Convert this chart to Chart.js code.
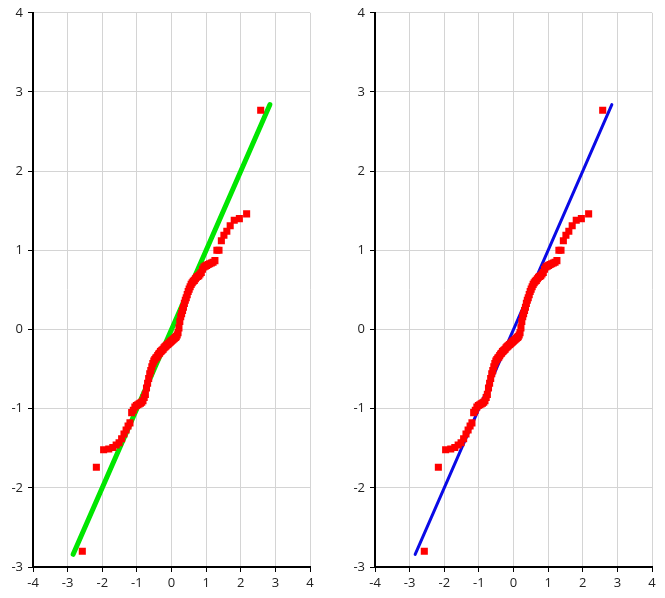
<!DOCTYPE html>
<html>
<head>
<meta charset="utf-8">
<script src="https://cdn.jsdelivr.net/npm/chart.js@4/dist/chart.umd.min.js"></script>
<style>
  body { margin: 0; background: #fff; width: 665px; height: 598px; overflow: hidden; position: relative; }
  canvas { position: absolute; top: 0; }
  #qqLeft { left: 0; }
  #qqRight { left: 340px; }
</style>
</head>
<body>
<canvas id="qqLeft" width="330" height="598"></canvas>
<canvas id="qqRight" width="325" height="598"></canvas>
<script>
// theoretical quantiles (x) and sorted sample values (y)
var theoX = [
  -2.576, -2.170, -1.960, -1.812, -1.695, -1.598, -1.514, -1.440, -1.372, -1.311,
  -1.254, -1.200, -1.150, -1.103, -1.058, -1.015, -0.974, -0.935, -0.896, -0.860,
  -0.824, -0.789, -0.755, -0.722, -0.690, -0.659, -0.628, -0.598, -0.568, -0.539,
  -0.510, -0.482, -0.454, -0.426, -0.399, -0.372, -0.345, -0.319, -0.292, -0.266,
  -0.240, -0.215, -0.189, -0.164, -0.138, -0.113, -0.088, -0.063, -0.038, -0.013,
  0.013, 0.038, 0.063, 0.088, 0.113, 0.138, 0.164, 0.189, 0.215, 0.240,
  0.266, 0.292, 0.319, 0.345, 0.372, 0.399, 0.426, 0.454, 0.482, 0.510,
  0.539, 0.568, 0.598, 0.628, 0.659, 0.690, 0.722, 0.755, 0.789, 0.824,
  0.860, 0.896, 0.935, 0.974, 1.015, 1.058, 1.103, 1.150, 1.200, 1.254,
  1.311, 1.372, 1.440, 1.514, 1.598, 1.695, 1.812, 1.960, 2.170, 2.576
];
var sampleY = [
  -2.80, -1.74, -1.52, -1.51, -1.49, -1.46, -1.43, -1.38, -1.32, -1.27,
  -1.22, -1.18, -1.05, -1.02, -0.98, -0.96, -0.95, -0.94, -0.93, -0.92,
  -0.90, -0.86, -0.82, -0.74, -0.68, -0.62, -0.56, -0.52, -0.47, -0.43,
  -0.40, -0.38, -0.36, -0.35, -0.33, -0.31, -0.30, -0.28, -0.27, -0.26,
  -0.25, -0.23, -0.22, -0.21, -0.20, -0.19, -0.18, -0.17, -0.16, -0.15,
  -0.14, -0.13, -0.12, -0.11, -0.10, -0.09, -0.07, -0.04, 0.02, 0.10,
  0.16, 0.20, 0.24, 0.28, 0.33, 0.37, 0.40, 0.44, 0.48, 0.51,
  0.54, 0.57, 0.59, 0.61, 0.62, 0.64, 0.66, 0.67, 0.68, 0.70,
  0.72, 0.76, 0.79, 0.80, 0.81, 0.82, 0.83, 0.84, 0.85, 0.87,
  1.00, 1.00, 1.12, 1.19, 1.24, 1.31, 1.38, 1.40, 1.46, 2.77
];
// reference line ends
var lineX = [-2.84, 2.84];
var lineY = [-2.84, 2.84];

var xTicks = [-4, -3, -2, -1, 0, 1, 2, 3, 4];
var yTicks = [-3, -2, -1, 0, 1, 2, 3, 4];

function toPoints(xs, ys) {
    return xs.map(function (x, i) { return { x: x, y: ys[i] }; });
}

function qqChart(id, lineColor, lineWidth, yWidth, rightPad) {
    return new Chart(id, {
        data: {
            datasets: [{
                type: "scatter",
                data: toPoints(theoX, sampleY),
                backgroundColor: "#ff0000",
                borderWidth: 0,
                pointStyle: "rect",
                pointRadius: 5,
                pointHoverRadius: 5,
                order: 1
            }, {
                type: "line",
                data: toPoints(lineX, lineY),
                borderColor: lineColor,
                borderWidth: lineWidth,
                borderCapStyle: "round",
                pointRadius: 0,
                fill: false,
                order: 2
            }]
        },
        options: {
            responsive: false,
            animation: false,
            events: [],
            layout: { padding: { top: 12, right: rightPad, left: 0, bottom: 0 } },
            plugins: { legend: { display: false }, tooltip: { enabled: false } },
            scales: {
                x: {
                    type: "linear",
                    min: -4, max: 4,
                    afterBuildTicks: function (s) { s.ticks = xTicks.map(function (v) { return { value: v }; }); },
                    afterFit: function (s) { s.height = 31; },
                    grid: { color: "#d4d4d4", tickColor: "#000", tickLength: 5, lineWidth: 1 },
                    border: { color: "#000", width: 2 },
                    ticks: { color: "#222", padding: 3, font: { family: "Open Sans", size: 13 }, maxRotation: 0 }
                },
                y: {
                    type: "linear",
                    min: -3, max: 4,
                    afterBuildTicks: function (s) { s.ticks = yTicks.map(function (v) { return { value: v }; }); },
                    afterFit: function (s) { s.width = yWidth; },
                    grid: { color: "#d4d4d4", tickColor: "#000", tickLength: 5, lineWidth: 1 },
                    border: { color: "#000", width: 2 },
                    ticks: { color: "#222", padding: 5, font: { family: "Open Sans", size: 13 } }
                }
            }
        }
    });
}

qqChart("qqLeft", "#00e600", 5, 33, 20);
qqChart("qqRight", "#0a0ae6", 3, 35, 13);
</script>
</body>
</html>
